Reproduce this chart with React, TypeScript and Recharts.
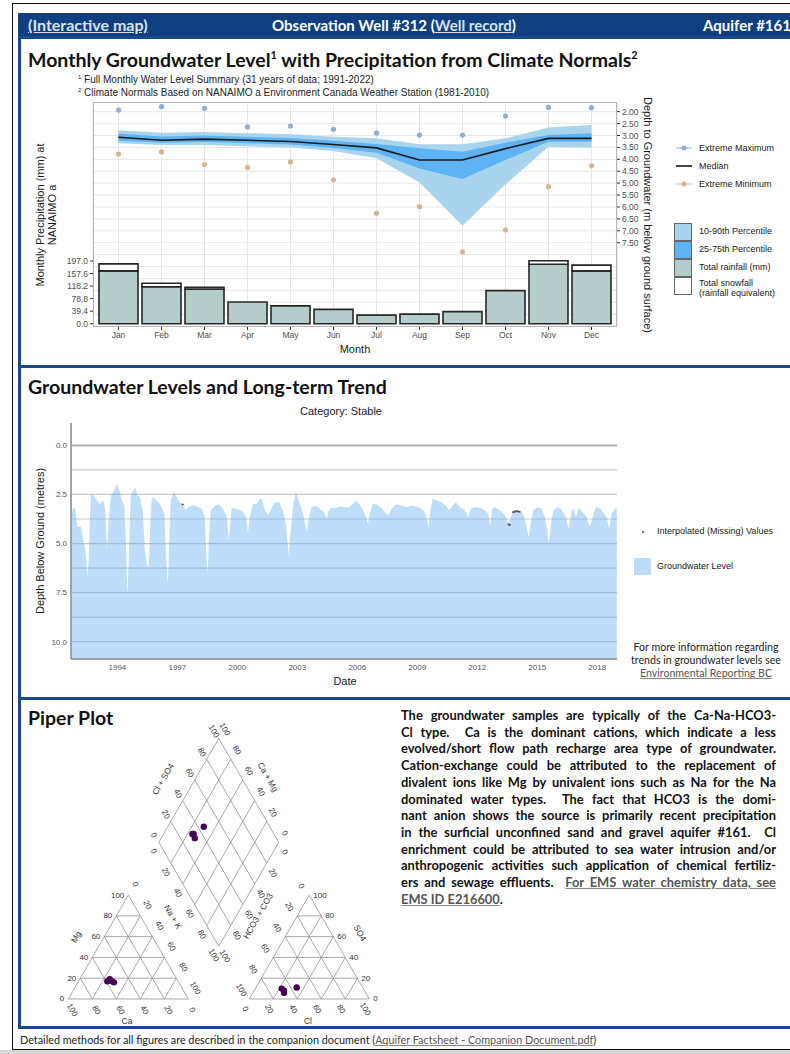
import React from "react";
import {
  ComposedChart,
  Bar,
  Area,
  Line,
  XAxis,
  YAxis,
  CartesianGrid,
  ScatterChart,
  Scatter,
  ReferenceLine,
} from "recharts";

// ---------- Monthly summary (top panel) ----------
const months = ["Jan", "Feb", "Mar", "Apr", "May", "Jun", "Jul", "Aug", "Sep", "Oct", "Nov", "Dec"];
const rainfall = [166, 116, 108, 68, 56, 45, 27, 30, 38, 104, 187, 166];
const snowfall = [22, 11, 6, 0, 0, 0, 0, 0, 0, 0, 11, 18];
const p10 = [2.78, 2.88, 2.85, 2.9, 2.95, 3.05, 3.12, 3.37, 3.37, 3.12, 2.66, 2.56];
const p25 = [2.93, 3.04, 3.0, 3.05, 3.1, 3.22, 3.36, 3.54, 3.68, 3.3, 2.98, 2.91];
const median = [3.07, 3.2, 3.15, 3.2, 3.25, 3.38, 3.52, 4.03, 4.03, 3.55, 3.12, 3.12];
const p75 = [3.22, 3.3, 3.27, 3.32, 3.38, 3.52, 3.72, 4.38, 4.83, 4.03, 3.26, 3.26];
const p90 = [3.33, 3.4, 3.4, 3.45, 3.5, 3.65, 3.95, 4.97, 6.79, 5.05, 3.47, 3.51];
const extremeMax = [1.93, 1.79, 1.86, 2.64, 2.6, 2.74, 2.89, 2.98, 2.98, 2.18, 1.82, 1.83];
const extremeMin = [3.78, 3.69, 4.22, 4.34, 4.11, 4.86, 6.26, 5.99, 7.88, 6.96, 5.15, 4.27];
const precipTicks = [0, 39.4, 78.8, 118.2, 157.6, 197.0];
const depthTicks = [2, 2.5, 3, 3.5, 4, 4.5, 5, 5.5, 6, 6.5, 7, 7.5];
const depthGrid = [2, 2.5, 3, 3.5, 4, 4.5, 5, 5.5, 6, 6.5, 7, 7.5, 8, 8.5, 9, 9.5, 10, 10.5];

// ---------- Long-term record (middle panel) ----------
const gwLevels: [number, number][] = [
  [1991.68, 3.65], [1991.77, 3.23], [1991.88, 3.15], [1992.0, 4.16], [1992.17, 4.13], [1992.3, 4.84],
  [1992.4, 5.35], [1992.5, 6.71], [1992.57, 5.69], [1992.67, 2.47], [1992.8, 2.55], [1992.97, 2.81],
  [1993.13, 2.98], [1993.3, 2.81], [1993.4, 3.31], [1993.47, 5.27], [1993.55, 4.16], [1993.67, 2.55],
  [1993.8, 2.38], [1993.97, 1.96], [1994.1, 2.3], [1994.23, 2.81], [1994.35, 3.06], [1994.43, 5.01],
  [1994.5, 7.73], [1994.57, 5.69], [1994.67, 2.47], [1994.8, 2.3], [1994.9, 2.13], [1995.0, 2.55],
  [1995.13, 2.64], [1995.27, 3.31], [1995.37, 5.35], [1995.47, 6.03], [1995.57, 6.2], [1995.63, 4.33],
  [1995.72, 2.64], [1995.88, 2.72], [1996.05, 2.89], [1996.22, 3.15], [1996.35, 3.48], [1996.47, 6.37],
  [1996.53, 6.97], [1996.6, 4.67], [1996.67, 2.81], [1996.83, 2.33], [1996.97, 2.64], [1997.13, 2.89],
  [1997.27, 3.01], [1997.4, 3.31], [1997.55, 3.15], [1997.77, 3.06], [1998.0, 3.11], [1998.22, 3.23],
  [1998.37, 3.65], [1998.45, 5.69], [1998.52, 6.54], [1998.58, 4.67], [1998.67, 3.31], [1998.83, 3.11],
  [1998.98, 3.01], [1999.15, 3.06], [1999.33, 3.31], [1999.47, 3.65], [1999.57, 4.84], [1999.63, 4.16],
  [1999.72, 3.18], [1999.88, 3.23], [2000.1, 3.28], [2000.3, 3.4], [2000.43, 3.65], [2000.53, 4.42],
  [2000.63, 3.65], [2000.77, 2.98], [2000.97, 2.98], [2001.13, 2.72], [2001.22, 2.72], [2001.38, 3.31],
  [2001.55, 3.57], [2001.72, 3.15], [2001.88, 2.89], [2002.1, 2.89], [2002.27, 3.31], [2002.43, 3.99],
  [2002.57, 5.61], [2002.67, 4.33], [2002.8, 2.98], [2002.93, 2.38], [2003.1, 2.89], [2003.27, 3.4],
  [2003.38, 3.91], [2003.48, 4.42], [2003.58, 3.65], [2003.72, 3.15], [2003.93, 3.06], [2004.13, 3.23],
  [2004.33, 3.4], [2004.47, 3.74], [2004.57, 3.31], [2004.72, 3.18], [2004.97, 3.18], [2005.17, 3.11],
  [2005.38, 3.15], [2005.6, 3.15], [2005.77, 2.98], [2005.93, 2.81], [2006.1, 2.98], [2006.3, 3.31],
  [2006.43, 3.65], [2006.53, 3.99], [2006.63, 3.48], [2006.77, 2.98], [2006.97, 3.01], [2007.17, 3.15],
  [2007.38, 3.4], [2007.55, 3.57], [2007.72, 3.23], [2007.93, 3.01], [2008.22, 3.06], [2008.47, 3.15],
  [2008.72, 3.06], [2008.97, 3.11], [2009.22, 3.23], [2009.38, 3.4], [2009.5, 3.82], [2009.57, 4.16],
  [2009.63, 3.48], [2009.77, 2.72], [2009.97, 2.81], [2010.22, 2.89], [2010.43, 3.06], [2010.6, 3.31],
  [2010.77, 3.06], [2010.93, 2.89], [2011.13, 3.15], [2011.38, 3.31], [2011.55, 3.65], [2011.67, 3.23],
  [2011.88, 3.15], [2012.13, 3.18], [2012.38, 3.31], [2012.55, 3.48], [2012.65, 4.08], [2012.75, 3.23],
  [2012.88, 3.15], [2013.13, 3.31], [2013.33, 3.48], [2013.47, 3.74], [2013.58, 4.03], [2013.68, 3.65],
  [2013.8, 3.4], [2014.0, 3.35], [2014.22, 3.4], [2014.35, 3.65], [2014.47, 4.16], [2014.57, 4.67],
  [2014.67, 3.99], [2014.8, 3.31], [2015.0, 3.15], [2015.22, 3.23], [2015.38, 3.65], [2015.5, 4.33],
  [2015.58, 5.01], [2015.67, 4.16], [2015.8, 3.31], [2016.02, 3.15], [2016.22, 3.28], [2016.43, 3.65],
  [2016.57, 4.25], [2016.67, 3.65], [2016.8, 3.18], [2016.93, 3.65], [2017.1, 3.15], [2017.27, 3.4],
  [2017.47, 3.65], [2017.63, 4.16], [2017.77, 3.65], [2017.93, 3.15], [2018.1, 3.18], [2018.3, 3.4],
  [2018.47, 3.65], [2018.6, 4.25], [2018.72, 3.48], [2018.88, 3.23], [2018.98, 3.15],
];
const missingYears = [1997.27, 2013.57, 2013.62, 2013.8, 2013.88, 2013.96, 2014.04, 2014.12];
const missingDepth = [3.01, 4.02, 4.05, 3.4, 3.37, 3.35, 3.36, 3.38];
const yearTicks = [1994, 1997, 2000, 2003, 2006, 2009, 2012, 2015, 2018];
const levelTicks = [0, 2.5, 5, 7.5, 10];
const levelGrid = [0, 1.25, 2.5, 3.75, 5, 6.25, 7.5, 8.75, 10];

// ---------- Piper plot samples (percent of meq) ----------
const sampleCa = [59, 56, 55, 54];
const sampleMg = [17, 19, 17, 16];
const sampleNaK = [24, 25, 28, 30];
const sampleHCO3 = [68, 67, 68, 55];
const sampleSO4 = [10, 8, 6, 11];
const sampleCl = [22, 25, 26, 34];
const pctTicks = [0, 20, 40, 60, 80, 100];
const gridSteps = [0.2, 0.4, 0.6, 0.8];

const monthly = months.map((m, i) => ({
  month: m,
  rain: rainfall[i],
  snow: snowfall[i],
  band90: [p10[i], p90[i]],
  band75: [p25[i], p75[i]],
  median: median[i],
  max: extremeMax[i],
  min: extremeMin[i],
}));
const levels = gwLevels.map(([t, d]) => ({ t, depth: d }));
const missing = missingYears.map((t, i) => ({ t, depth: missingDepth[i] }));

// piper geometry, triangle side = 1
const H = Math.sqrt(3) / 2;
const GAP = 0.508;
const RX = 1 + GAP;
const B = { x: (1 + RX) / 2, y: GAP * H };
const L = { x: B.x - 0.5, y: B.y + H };
const T = { x: B.x, y: B.y + 2 * H };
const R = { x: B.x + 0.5, y: B.y + H };
const PX = 1 / 120;
type P = { x: number; y: number };
const add = (p: P, q: P, k = 1): P => ({ x: p.x + q.x * k, y: p.y + q.y * k });
const sub = (p: P, q: P): P => ({ x: p.x - q.x, y: p.y - q.y });

function triGrid(ox: number): [P, P][] {
  const s: [P, P][] = [
    [{ x: ox, y: 0 }, { x: ox + 1, y: 0 }],
    [{ x: ox, y: 0 }, { x: ox + 0.5, y: H }],
    [{ x: ox + 1, y: 0 }, { x: ox + 0.5, y: H }],
  ];
  gridSteps.forEach((k) => {
    s.push([{ x: ox + k / 2, y: k * H }, { x: ox + 1 - k / 2, y: k * H }]);
    s.push([{ x: ox + k, y: 0 }, { x: ox + k + (1 - k) / 2, y: (1 - k) * H }]);
    s.push([{ x: ox + 1 - k, y: 0 }, { x: ox + (1 - k) / 2, y: (1 - k) * H }]);
  });
  return s;
}
const diamondGrid: [P, P][] = [];
[0, ...gridSteps, 1].forEach((k) => {
  const a = add(L, sub(B, L), k);
  diamondGrid.push([a, add(a, sub(T, L))]);
  const b = add(L, sub(T, L), k);
  diamondGrid.push([b, add(b, sub(B, L))]);
});
const piperSegments = [...triGrid(0), ...triGrid(RX), ...diamondGrid];

const piperPoints: P[] = [];
sampleCa.forEach((_, i) => {
  piperPoints.push({ x: (sampleNaK[i] + sampleMg[i] / 2) / 100, y: (sampleMg[i] / 100) * H });
  piperPoints.push({ x: RX + (sampleCl[i] + sampleSO4[i] / 2) / 100, y: (sampleSO4[i] / 100) * H });
  const na = sampleNaK[i] / 100;
  const an = (sampleCl[i] + sampleSO4[i]) / 100;
  piperPoints.push({ x: L.x + 0.5 * (na + an), y: L.y + H * (an - na) });
});

type Lab = { x: number; y: number; text: string; rot: number; anchor: string; size: number };
const piperLabels: Lab[] = [];
const lab = (p: P, dx: number, dy: number, text: string, rot = 0, anchor = "middle", size = 8) =>
  piperLabels.push({ x: p.x + dx * PX, y: p.y - dy * PX, text, rot, anchor, size });
pctTicks.forEach((v) => {
  const k = v / 100;
  const t = String(v);
  // cation triangle
  lab({ x: k / 2, y: k * H }, -4, 0, t, 0, "end");
  lab({ x: 1 - k, y: 0 }, 4, 11, t, 60);
  lab({ x: (1 + k) / 2, y: (1 - k) * H }, 7, -11, t, 60);
  // anion triangle
  lab({ x: RX + (1 - k) / 2, y: (1 - k) * H }, -8, -9, t, 60);
  lab({ x: RX + 1 - k / 2, y: k * H }, 4, 0, t, 0, "start");
  lab({ x: RX + k, y: 0 }, -4, 10, t, 60);
  // diamond
  lab(add(L, sub(T, L), k), -5, -7, t, 60);
  lab(add(T, sub(R, T), 1 - k), 6, -9, t, 60);
  lab(add(L, sub(B, L), k), -5, 9, t, 60);
  lab(add(B, sub(R, B), 1 - k), 6, 10, t, 60);
});
const titleAt = (px: number, py: number, text: string, rot: number) =>
  piperLabels.push({ x: (px - 68.3) * PX, y: (999 - py) * PX, text, rot, anchor: "middle", size: 8.5 });
titleAt(76, 937, "Mg", -60);
titleAt(127, 1021, "Ca", 0);
titleAt(173, 917, "Na + K", 60);
titleAt(308, 1021, "Cl", 0);
titleAt(360, 933, "SO4", 60);
titleAt(258, 916, "HCO3 + CO3", -60);
titleAt(163, 779, "Cl + SO4", -60);
titleAt(268, 777, "Ca + Mg", 60);

const paragraph: [string, string?][] = [
  ["The groundwater samples are typically of the Ca-Na-HCO3-"],
  ["Cl type.  Ca is the dominant cations, which indicate a less"],
  ["evolved/short flow path recharge area type of groundwater."],
  ["Cation-exchange could be attributed to the replacement of"],
  ["divalent ions like Mg by univalent ions such as Na for the Na"],
  ["dominated water types.  The fact that HCO3 is the domi-"],
  ["nant anion shows the source is primarily recent precipitation"],
  ["in the surficial unconfined sand and gravel aquifer #161.  Cl"],
  ["enrichment could be attributed to sea water intrusion and/or"],
  ["anthropogenic activities such application of chemical fertiliz-"],
  ["ers and sewage effluents.  ", "For EMS water chemistry data, see"],
];

const ggFont = "'Liberation Sans', Arial, sans-serif";
const texFont = "Lato, 'Open Sans', sans-serif";
const abs = (left: number, top: number, extra: React.CSSProperties = {}): React.CSSProperties => ({
  position: "absolute",
  left,
  top,
  ...extra,
});
const link: React.CSSProperties = { color: "#555", textDecoration: "underline", textDecorationColor: "#888" };

const LabelShape = (p: any) => (
  <text
    x={p.cx}
    y={p.cy}
    transform={p.payload.rot ? `rotate(${p.payload.rot} ${p.cx} ${p.cy})` : undefined}
    textAnchor={p.payload.anchor}
    dominantBaseline="central"
    fontSize={p.payload.size}
    fontFamily={ggFont}
    fill="#333"
  >
    {p.payload.text}
  </text>
);

function Swatch({ top, color }: { top: number; color: string }) {
  return (
    <div
      style={abs(674, top, {
        width: 18,
        height: 18,
        background: color,
        border: "1px solid #666",
        boxSizing: "border-box",
      })}
    />
  );
}

function LineKey({ top, color, dot, label }: { top: number; color: string; dot: boolean; label: string }) {
  return (
    <>
      <svg style={abs(675, top - 6)} width={18} height={12}>
        <line x1={1} x2={17} y1={6} y2={6} stroke={color} strokeWidth={dot ? 1 : 1.6} />
        {dot && <circle cx={9} cy={6} r={2.5} fill={color} />}
      </svg>
      <div style={abs(699, top - 6, { fontSize: 9, fontFamily: ggFont, color: "#1a1a1a", lineHeight: "12px" })}>
        {label}
      </div>
    </>
  );
}

export default function App() {
  const tick = { fontSize: 8.5, fill: "#4d4d4d", fontFamily: ggFont };
  const legendText = { fontSize: 9, fontFamily: ggFont, color: "#1a1a1a", lineHeight: "11px" };
  const heading = { fontSize: 19.5, fontWeight: 700, color: "#111", lineHeight: "24px", whiteSpace: "nowrap" as const };
  return (
    <div style={abs(0, 0, { width: 790, height: 1054, overflow: "hidden", background: "#fff", fontFamily: texFont })}>
      <div style={abs(0, 1050, { width: 790, height: 4, background: "#d8d8d8" })} />
      <div style={abs(12, 3, { width: 800, height: 1047, border: "1.5px solid #111", boxSizing: "border-box" })} />

      {/* header */}
      <div style={abs(18, 13, { width: 780, height: 25, background: "#103f7f" })} />
      <div style={abs(28, 14, { color: "#d6e2f2", fontWeight: 700, fontSize: 16, lineHeight: "22px", textDecoration: "underline", whiteSpace: "nowrap" })}>
        (Interactive map)
      </div>
      <div
        style={abs(394, 14, {
          transform: "translateX(-50%)",
          color: "#fff",
          fontWeight: 700,
          fontSize: 15,
          lineHeight: "22px",
          whiteSpace: "nowrap",
        })}
      >
        Observation Well #312 (<span style={{ textDecoration: "underline", color: "#d6e2f2" }}>Well record</span>)
      </div>
      <div style={abs(703, 14, { color: "#fff", fontWeight: 700, fontSize: 15, lineHeight: "22px", whiteSpace: "nowrap" })}>
        Aquifer #161
      </div>

      {/* panel frames */}
      <div style={abs(18, 36, { width: 790, height: 332, border: "3px solid #174a8c", boxSizing: "border-box" })} />
      <div style={abs(18, 365, { width: 790, height: 335, border: "3px solid #174a8c", boxSizing: "border-box" })} />
      <div style={abs(18, 697, { width: 790, height: 332, border: "3px solid #174a8c", boxSizing: "border-box" })} />

      {/* ---------- panel 1 ---------- */}
      <div style={abs(28, 43, heading)}>
        Monthly Groundwater Level<sup style={{ fontSize: 11 }}>1</sup> with Precipitation from Climate Normals
        <sup style={{ fontSize: 11 }}>2</sup>
      </div>
      <div style={abs(78, 72, { fontSize: 10, fontFamily: ggFont, color: "#222", lineHeight: "10px", whiteSpace: "nowrap" })}>
        <div>
          <sup style={{ fontSize: 6 }}>1</sup> Full Monthly Water Level Summary (31 years of data; 1991-2022)
        </div>
        <div>
          <sup style={{ fontSize: 6 }}>2</sup> Climate Normals Based on NANAIMO a Environment Canada Weather Station (1981-2010)
        </div>
      </div>

      <div style={abs(0, 60)}>
        <ComposedChart width={700} height={300} data={monthly} margin={{ top: 42, right: 53, bottom: 13, left: 63 }}>
          <CartesianGrid yAxisId="depth" horizontalValues={depthGrid} stroke="#e6e6e6" />
          <XAxis dataKey="month" padding={{ left: 4, right: 4 }} tick={tick} tickLine={{ stroke: "#333" }} tickSize={3} axisLine={false} height={20} interval={0} />
          <YAxis
            yAxisId="precip"
            orientation="left"
            type="number"
            domain={[-10.4, 696.6]}
            ticks={precipTicks}
            interval={0}
            allowDataOverflow
            tickFormatter={(v: number) => v.toFixed(1)}
            tick={tick}
            tickLine={{ stroke: "#333" }}
            tickSize={3}
            axisLine={false}
            width={30}
          />
          <YAxis
            yAxisId="depth"
            orientation="right"
            type="number"
            reversed
            domain={[1.593, 11.04]}
            ticks={depthTicks}
            interval={0}
            allowDataOverflow
            tickFormatter={(v: number) => v.toFixed(2)}
            tick={tick}
            tickLine={{ stroke: "#333" }}
            tickSize={3}
            axisLine={false}
            width={30}
          />
          <Bar yAxisId="precip" dataKey="rain" stackId="p" fill="#b4ccca" stroke="#262626" strokeWidth={1.6} barSize={39} isAnimationActive={false} />
          <Bar yAxisId="precip" dataKey="snow" stackId="p" fill="#ffffff" stroke="#262626" strokeWidth={1.6} barSize={39} isAnimationActive={false} />
          <Area yAxisId="depth" dataKey="band90" type="linear" fill="#a9d4ee" fillOpacity={1} stroke="none" isAnimationActive={false} />
          <Area yAxisId="depth" dataKey="band75" type="linear" fill="#5db3f4" fillOpacity={1} stroke="none" isAnimationActive={false} />
          <Line yAxisId="depth" dataKey="median" type="linear" stroke="#1a1a1a" strokeWidth={1.6} dot={false} activeDot={false} isAnimationActive={false} />
          <Line yAxisId="depth" dataKey="max" stroke="none" dot={{ r: 2.6, fill: "#8eaed6", stroke: "none" }} activeDot={false} isAnimationActive={false} />
          <Line yAxisId="depth" dataKey="min" stroke="none" dot={{ r: 2.6, fill: "#d6b592", stroke: "none" }} activeDot={false} isAnimationActive={false} />
        </ComposedChart>
      </div>
      <div style={abs(93, 102, { width: 524, height: 225, border: "1px solid #b5b5b5", boxSizing: "border-box" })} />
      <div
        style={abs(46, 215, {
          transform: "translate(-50%,-50%) rotate(-90deg)",
          fontSize: 11,
          fontFamily: ggFont,
          color: "#1a1a1a",
          textAlign: "center",
          lineHeight: "12px",
          whiteSpace: "nowrap",
        })}
      >
        Monthly Precipitation (mm) at
        <br />
        NANAIMO a
      </div>
      <div
        style={abs(648, 215, {
          transform: "translate(-50%,-50%) rotate(90deg)",
          fontSize: 11,
          fontFamily: ggFont,
          color: "#1a1a1a",
          whiteSpace: "nowrap",
        })}
      >
        Depth to Groundwater (m below ground surface)
      </div>
      <div style={abs(355, 349, { transform: "translate(-50%,-50%)", fontSize: 11, fontFamily: ggFont, color: "#1a1a1a" })}>Month</div>

      <LineKey top={148} color="#8eaed6" dot label="Extreme Maximum" />
      <LineKey top={166} color="#1a1a1a" dot={false} label="Median" />
      <LineKey top={184} color="#d6b592" dot label="Extreme Minimum" />
      <Swatch top={223} color="#a9d4ee" />
      <Swatch top={241} color="#5db3f4" />
      <Swatch top={259} color="#b4ccca" />
      <Swatch top={277} color="#ffffff" />
      <div style={abs(699, 226, legendText)}>10-90th Percentile</div>
      <div style={abs(699, 244, legendText)}>25-75th Percentile</div>
      <div style={abs(699, 262, legendText)}>Total rainfall (mm)</div>
      <div style={abs(699, 278, { ...legendText, lineHeight: "10px" })}>
        Total snowfall
        <br />
        (rainfall equivalent)
      </div>

      {/* ---------- panel 2 ---------- */}
      <div style={abs(28, 375, heading)}>Groundwater Levels and Long-term Trend</div>
      <div style={abs(341, 411, { transform: "translate(-50%,-50%)", fontSize: 11, fontFamily: ggFont, color: "#1a1a1a", whiteSpace: "nowrap" })}>
        Category: Stable
      </div>
      <div style={abs(0, 370)}>
        <ComposedChart width={700} height={310} data={levels} margin={{ top: 53, right: 83, bottom: 1, left: 41 }}>
          <CartesianGrid horizontalValues={levelGrid} vertical={false} stroke="#c9c9c9" strokeWidth={1.2} />
          <XAxis
            type="number"
            dataKey="t"
            domain={[1991.68, 2018.99]}
            ticks={yearTicks}
            interval={0}
            allowDataOverflow
            tick={{ fontSize: 8, fill: "#555", fontFamily: ggFont }}
            tickLine={false}
            tickSize={3}
            axisLine={{ stroke: "#a3a3a3", strokeWidth: 2 }}
            height={20}
          />
          <YAxis
            type="number"
            reversed
            domain={[-1.14, 10.88]}
            ticks={levelTicks}
            interval={0}
            allowDataOverflow
            tickFormatter={(v: number) => v.toFixed(1)}
            tick={{ fontSize: 8, fill: "#555", fontFamily: ggFont }}
            tickLine={false}
            tickSize={2}
            tickMargin={2}
            axisLine={{ stroke: "#a3a3a3", strokeWidth: 2 }}
            width={30}
          />
          <ReferenceLine y={0} stroke="#b3b3b3" strokeWidth={2} />
          <Area dataKey="depth" type="linear" baseValue="dataMax" fill="#5aa9f0" fillOpacity={0.4} stroke="none" isAnimationActive={false} />
          <Scatter
            data={missing}
            dataKey="depth"
            isAnimationActive={false}
            shape={(p: any) => <circle cx={p.cx} cy={p.cy} r={1.1} fill="#555" />}
          />
        </ComposedChart>
      </div>
      <div
        style={abs(40, 541, {
          transform: "translate(-50%,-50%) rotate(-90deg)",
          fontSize: 11,
          fontFamily: ggFont,
          color: "#1a1a1a",
          whiteSpace: "nowrap",
        })}
      >
        Depth Below Ground (metres)
      </div>
      <div style={abs(345, 681, { transform: "translate(-50%,-50%)", fontSize: 11, fontFamily: ggFont, color: "#1a1a1a" })}>Date</div>
      <svg style={abs(640, 529)} width={6} height={6}>
        <circle cx={3} cy={3} r={1.1} fill="#555" />
      </svg>
      <div style={abs(657, 526, legendText)}>Interpolated (Missing) Values</div>
      <div style={abs(634, 558, { width: 17, height: 17, background: "#bddcfb" })} />
      <div style={abs(657, 561, legendText)}>Groundwater Level</div>
      <div style={abs(706, 641, { transform: "translateX(-50%)", fontSize: 10.6, lineHeight: "13px", color: "#222", textAlign: "center", whiteSpace: "nowrap" })}>
        For more information regarding
        <br />
        trends in groundwater levels see
        <br />
        <span style={link}>Environmental Reporting BC</span>
      </div>

      {/* ---------- panel 3 ---------- */}
      <div style={abs(28, 706, heading)}>Piper Plot</div>
      <div style={abs(0, 700)}>
        <ScatterChart width={400} height={330} margin={{ top: 5, right: 2, bottom: 5, left: 8 }}>
          <XAxis type="number" dataKey="x" domain={[-0.5025, 2.7475]} allowDataOverflow hide />
          <YAxis type="number" dataKey="y" domain={[-0.2167, 2.45]} allowDataOverflow hide />
          {piperSegments.map(([a, b], i) => (
            <ReferenceLine key={i} segment={[a, b]} stroke="#929292" strokeWidth={0.8} ifOverflow="visible" />
          ))}
          <Scatter data={piperLabels} isAnimationActive={false} shape={LabelShape} />
          <Scatter
            data={piperPoints}
            isAnimationActive={false}
            shape={(p: any) => <circle cx={p.cx} cy={p.cy} r={3.2} fill="#440154" />}
          />
        </ScatterChart>
      </div>
      <div style={abs(401, 707, { width: 375, fontSize: 12.9, fontWeight: 700, color: "#111", lineHeight: "16.7px" })}>
        {paragraph.map(([a, b], i) => (
          <div key={i} style={{ textAlign: "justify", textAlignLast: "justify", whiteSpace: "pre-wrap" }}>
            {a}
            {b && <span style={link}>{b}</span>}
          </div>
        ))}
        <div>
          <span style={link}>EMS ID E216600</span>.
        </div>
      </div>

      {/* footer */}
      <div style={abs(20, 1034, { fontSize: 10.8, color: "#222", lineHeight: "12px", whiteSpace: "nowrap" })}>
        Detailed methods for all figures are described in the companion document (
        <span style={link}>Aquifer Factsheet - Companion Document.pdf</span>)
      </div>
    </div>
  );
}
